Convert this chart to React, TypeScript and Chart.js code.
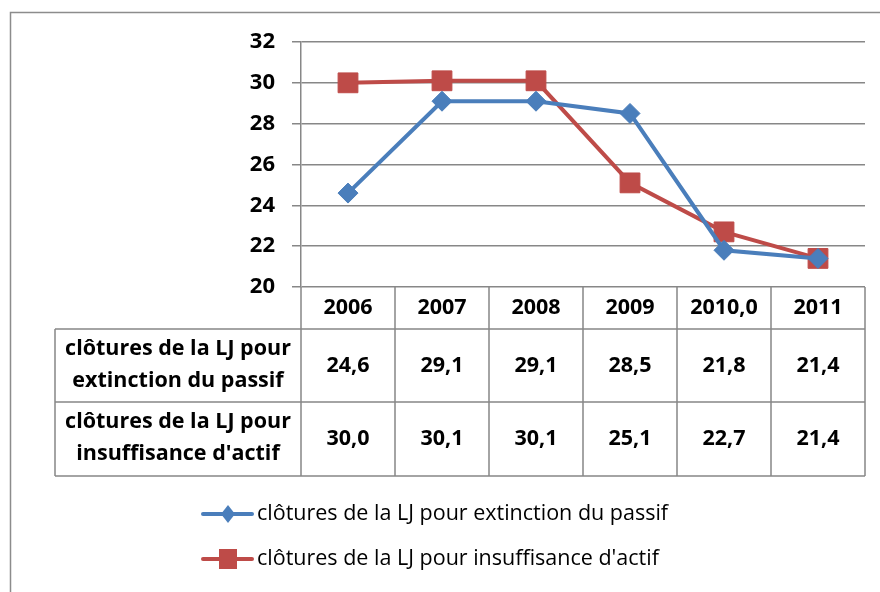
import React, { useEffect, useRef } from "react";
import { Chart, registerables } from "chart.js";
Chart.register(...registerables);

const categories = ["2006", "2007", "2008", "2009", "2010,0", "2011"];
const extinction = [24.6, 29.1, 29.1, 28.5, 21.8, 21.4];
const insuffisance = [30.0, 30.1, 30.1, 25.1, 22.7, 21.4];
const seriesNames = [
  "clôtures de la LJ pour extinction du passif",
  "clôtures de la LJ pour insuffisance d'actif",
];
const rowLabels = [
  ["clôtures de la LJ pour", "extinction du passif"],
  ["clôtures de la LJ pour", "insuffisance d'actif"],
];
const yMin = 20;
const yMax = 32;
const yStep = 2;

const BLUE = "#4A7EBB";
const RED = "#BE4B48";
const GRID = "#878787";
const FONT = "'Open Sans', Lato, sans-serif";

const fmt = (v: number) => v.toFixed(1).replace(".", ",");

const tablePlugin = {
  id: "tableAndLegend",
  beforeDraw(chart: any) {
    const ctx = chart.ctx;
    ctx.save();
    ctx.fillStyle = "#fff";
    ctx.fillRect(0, 0, chart.width, chart.height);
    ctx.strokeStyle = "#8c8c8c";
    ctx.lineWidth = 1.5;
    ctx.strokeRect(10.5, 12.5, chart.width + 20, chart.height + 20);
    ctx.restore();
  },
  afterDraw(chart: any) {
    const ctx = chart.ctx;
    const area = chart.chartArea;
    const x = chart.scales.x;
    const step = x.getPixelForValue(1) - x.getPixelForValue(0);
    const n = categories.length;
    const bounds: number[] = [];
    for (let i = 0; i <= n; i++) bounds.push(x.getPixelForValue(i) - step / 2);
    const top = area.bottom;
    const headerB = top + 42;
    const row1B = headerB + 73;
    const row2B = row1B + 74;
    const labelLeft = 55;
    ctx.save();
    ctx.strokeStyle = GRID;
    ctx.lineWidth = 1.5;
    ctx.beginPath();
    [headerB, row1B, row2B].forEach((yy) => {
      ctx.moveTo(labelLeft, yy);
      ctx.lineTo(area.right, yy);
    });
    bounds.forEach((bx) => {
      ctx.moveTo(bx, top);
      ctx.lineTo(bx, row2B);
    });
    ctx.moveTo(labelLeft, headerB);
    ctx.lineTo(labelLeft, row2B);
    ctx.stroke();

    ctx.fillStyle = "#000";
    ctx.textAlign = "center";
    ctx.textBaseline = "middle";
    ctx.font = `bold 21.5px ${FONT}`;
    categories.forEach((c, i) => {
      ctx.fillText(c, x.getPixelForValue(i), (top + headerB) / 2);
    });
    const rows = [extinction, insuffisance];
    const rowTops = [headerB, row1B];
    const rowBots = [row1B, row2B];
    rows.forEach((vals, r) => {
      const cy = (rowTops[r] + rowBots[r]) / 2;
      vals.forEach((v, i) => {
        ctx.fillText(fmt(v), x.getPixelForValue(i), cy);
      });
      const lx = (labelLeft + area.left) / 2;
      ctx.fillText(rowLabels[r][0], lx, cy - 17);
      ctx.fillText(rowLabels[r][1], lx, cy + 15);
    });

    // legend
    const colors = [BLUE, RED];
    const ys = [514, 559];
    ctx.font = `21.5px ${FONT}`;
    ctx.textAlign = "left";
    seriesNames.forEach((name, i) => {
      const y = ys[i];
      ctx.strokeStyle = colors[i];
      ctx.lineWidth = 4;
      ctx.lineCap = "round";
      ctx.beginPath();
      ctx.moveTo(203, y);
      ctx.lineTo(252, y);
      ctx.stroke();
      ctx.fillStyle = colors[i];
      ctx.beginPath();
      if (i === 0) {
        ctx.moveTo(228, y - 9);
        ctx.lineTo(235, y);
        ctx.lineTo(228, y + 9);
        ctx.lineTo(221, y);
        ctx.closePath();
      } else {
        ctx.rect(219, y - 10, 18, 20);
      }
      ctx.fill();
      ctx.fillStyle = "#000";
      ctx.fillText(name, 257, y);
    });
    ctx.restore();
  },
};

export default function App() {
  const ref = useRef<HTMLCanvasElement>(null);
  useEffect(() => {
    document.body.style.margin = "0";
    const chart = new Chart(ref.current!, {
      type: "line",
      data: {
        labels: categories,
        datasets: [
          {
            label: seriesNames[0],
            data: extinction,
            borderColor: BLUE,
            backgroundColor: BLUE,
            borderWidth: 4,
            pointStyle: "rectRot",
            pointRadius: 10,
            pointBorderWidth: 1,
            tension: 0,
          },
          {
            label: seriesNames[1],
            data: insuffisance,
            borderColor: RED,
            backgroundColor: RED,
            borderWidth: 4,
            pointStyle: "rect",
            pointRadius: 14,
            pointBorderWidth: 1,
            tension: 0,
          },
        ],
      },
      options: {
        responsive: false,
        animation: false,
        layout: { padding: { left: 0, top: 42, right: 15, bottom: 305 } },
        plugins: { legend: { display: false }, tooltip: { enabled: false } },
        scales: {
          x: { display: false, offset: true },
          y: {
            min: yMin,
            max: yMax,
            ticks: {
              stepSize: yStep,
              color: "#000",
              padding: 17,
              font: { family: FONT, weight: "bold", size: 22 },
            },
            grid: { color: GRID, lineWidth: 1.5, tickLength: 9 },
            border: { color: GRID, width: 1.5 },
            afterFit: (s: any) => {
              s.width = 301;
            },
          },
        },
      },
      plugins: [tablePlugin],
    });
    return () => chart.destroy();
  }, []);
  return <canvas ref={ref} width={880} height={592} style={{ display: "block" }} />;
}
